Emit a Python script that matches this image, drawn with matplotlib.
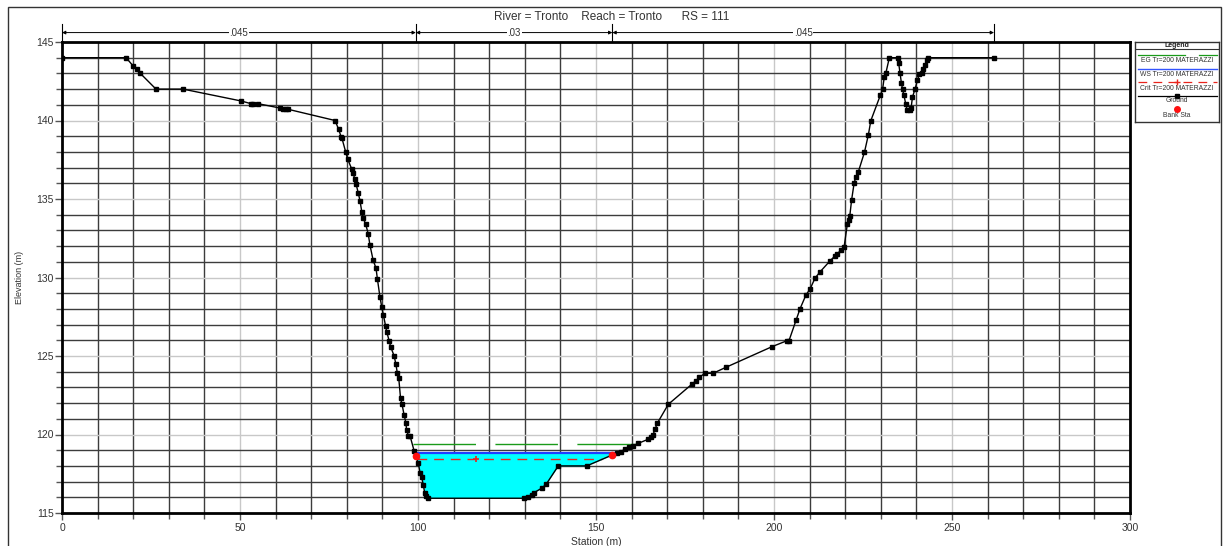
import matplotlib
matplotlib.use("Agg")
import matplotlib.pyplot as plt
from matplotlib.patches import Rectangle
import numpy as np

plt.rcParams['font.family'] = ['Liberation Sans', 'DejaVu Sans']

# ---------------- data ----------------
station = [0, 18.0, 20.0, 21.0, 22.0, 26.4, 34.0, 50.4, 53.1, 53.6, 55.1, 61.2, 62.0, 62.8, 63.4,
           76.7, 77.7, 78.4, 78.6, 79.7, 80.2, 81.4, 81.8, 82.2, 82.6, 83.2, 83.7, 84.2, 84.6,
           85.3, 86.0, 86.5, 87.4, 88.2, 88.6, 89.3, 89.8, 90.3, 90.9, 91.2, 91.9, 92.3, 93.3,
           93.8, 94.2, 94.6, 95.1, 95.5, 96.1, 96.6, 96.8, 97.3, 97.75, 98.9, 99.4, 100.1, 100.6,
           101.0, 101.5, 101.9, 102.2, 102.7, 129.9, 131.0, 131.9, 132.6, 134.7, 136.0, 139.4,
           147.4, 154.6, 155.8, 156.9, 158.1, 159.3, 160.5, 161.9, 164.7, 165.4, 166.0, 166.6,
           167.2, 170.3, 176.9, 178.1, 179.0, 180.6, 182.9, 186.5, 199.5, 203.6, 204.2, 206.2,
           207.3, 209.0, 210.1, 211.5, 212.9, 215.7, 217.1, 217.8, 218.7, 219.7, 220.6, 221.1,
           221.3, 221.8, 222.5, 223.0, 223.7, 225.4, 226.5, 227.2, 229.9, 230.5, 231.0, 231.4,
           232.4, 234.7, 235.0, 235.4, 235.8, 236.1, 236.5, 237.0, 237.4, 238.2, 238.5, 238.9,
           239.6, 240.3, 240.8, 241.5, 241.9, 242.4, 242.9, 243.2, 261.8]
elevation = [144.0, 144.0, 143.47, 143.3, 143.0, 142.0, 142.0, 141.24, 141.07, 141.07, 141.07, 140.8,
             140.76, 140.72, 140.72, 140.0, 139.44, 138.97, 138.9, 137.97, 137.57, 136.9, 136.64,
             136.3, 135.96, 135.4, 134.9, 134.2, 133.77, 133.4, 132.8, 132.07, 131.1, 130.6, 129.9,
             128.78, 128.14, 127.6, 126.9, 126.55, 125.97, 125.6, 125.0, 124.47, 123.9, 123.58,
             122.3, 121.94, 121.24, 120.75, 120.29, 119.92, 119.92, 118.97, 118.6, 118.17, 117.53,
             117.31, 116.78, 116.25, 116.08, 115.94, 115.94, 116.04, 116.17, 116.3, 116.57, 116.83,
             118.0, 118.0, 118.7, 118.8, 118.9, 119.06, 119.2, 119.29, 119.44, 119.7, 119.86,
             119.97, 120.35, 120.71, 121.92, 123.2, 123.43, 123.64, 123.9, 123.9, 124.28, 125.6,
             125.97, 125.97, 127.29, 128.0, 128.9, 129.25, 129.95, 130.35, 131.05, 131.37, 131.5,
             131.73, 131.96, 133.4, 133.66, 133.94, 134.94, 136.0, 136.42, 136.74, 137.97, 139.08,
             139.99, 141.62, 141.99, 142.8, 143.0, 144.0, 144.0, 143.68, 143.0, 142.37, 141.99,
             141.62, 141.05, 140.67, 140.67, 140.78, 141.5, 141.99, 142.58, 142.94, 143.0, 143.26,
             143.53, 143.85, 144.0, 144.0]

bank_sta = [99.4, 154.6]
bank_elev = [118.6, 118.7]

eg_elev = 119.38
eg_extent = [98.6, 161.2]
ws_elev = 118.8
ws_extent = [99.2, 155.8]
crit_elev = 118.42
crit_extent = [99.6, 151.7]
crit_marker_sta = [116.3]

mann_bounds = [0, 99.4, 154.6, 261.8]
mann_labels = [".045", ".03", ".045"]

title = "River = Tronto    Reach = Tronto      RS = 111"
legend_labels = ["EG Tr=200 MATERAZZI", "WS Tr=200 MATERAZZI", "Crit Tr=200 MATERAZZI", "Ground", "Bank Sta"]

# ---------------- figure ----------------
W, H = 1224, 546
fig = plt.figure(figsize=(W / 100, H / 100), dpi=100)
fig.patch.set_facecolor('white')

# outer frame
fig.patches.append(Rectangle((8 / W, -0.05), (1221 - 8) / W, 1 - 7 / H + 0.05,
                             transform=fig.transFigure, fill=False, edgecolor='#333333', lw=1.0))

ax = fig.add_axes([62 / W, 1 - 513 / H, (1130 - 62) / W, (513 - 42) / H])
ax.set_xlim(0, 300)
ax.set_ylim(115, 145)

# grid
for x in range(10, 300, 10):
    ax.axvline(x, color='#c8c8c8' if x % 50 == 0 else '#3c3c3c', lw=1.0, zorder=1)
for y in range(116, 145):
    ax.axhline(y, color='#c8c8c8' if y % 5 == 0 else '#3c3c3c', lw=1.0, zorder=1)

st = np.array(station)
el = np.array(elevation)

# water fill
ax.fill_between(st, el, ws_elev, where=el < ws_elev, interpolate=True,
                color='#00ffff', zorder=2, lw=0)
# WS line
ax.plot(ws_extent, [ws_elev, ws_elev], color='#1f3fff', lw=1.6, zorder=3)
# EG line
ax.plot(eg_extent, [eg_elev, eg_elev], color='#1a9a1a', lw=1.0, zorder=3,
        dashes=(45, 14))
# Crit line
ax.plot(crit_extent, [crit_elev, crit_elev], color='#e8241c', lw=1.0, zorder=3,
        dashes=(7, 5))
ax.plot(crit_marker_sta, [crit_elev] * len(crit_marker_sta), '+', color='#e8241c',
        ms=4, mew=1.2, zorder=3)
# ground
ax.plot(st, el, color='black', lw=1.0, marker='s', ms=3.4, zorder=4)
# bank stations
ax.plot(bank_sta, bank_elev, 'o', color='#ff1010', ms=4.5, zorder=5)

# ticks & spines
ax.set_xticks(range(0, 301, 50))
ax.set_xticks(range(0, 301, 10), minor=True)
ax.set_yticks(range(115, 146, 5))
ax.set_yticks(range(115, 146, 1), minor=True)
ax.tick_params(which='both', direction='out', color='#555555', labelsize=7.5,
               labelcolor='#333333')
ax.tick_params(which='major', length=5, width=1)
ax.tick_params(which='minor', length=4, width=1)
ax.tick_params(axis='x', pad=2)
ax.tick_params(axis='y', pad=1)
for s in ax.spines.values():
    s.set_linewidth(2.0)
    s.set_color('black')
ax.set_xlabel("Station (m)", fontsize=7.5, color='#333333', labelpad=3)
ax.set_ylabel("Elevation (m)", fontsize=6.5, color='#333333', labelpad=9)

# manning's n annotation above axes
y_arrow = 145.6
for b in mann_bounds:
    ax.plot([b, b], [145.0, 146.15], color='black', lw=0.8, clip_on=False)
for i, lab in enumerate(mann_labels):
    a, b = mann_bounds[i], mann_bounds[i + 1]
    ax.annotate('', xy=(a, y_arrow), xytext=(b, y_arrow), annotation_clip=False,
                arrowprops=dict(arrowstyle='<|-|>', color='black', lw=0.7,
                                mutation_scale=5, shrinkA=0, shrinkB=0))
    ax.text((a + b) / 2, y_arrow, lab, fontsize=7, color='#333333', ha='center', va='center',
            bbox=dict(facecolor='white', edgecolor='none', pad=0.6), clip_on=False)

fig.text(612 / W, 1 - 17 / H, title, fontsize=8.5, color='#333333', ha='center', va='center')

# legend box (drawn in pixel coordinates of a small axes)
lx0, ly0, lx1, ly1 = 1135, 42, 1219, 122
lg = fig.add_axes([lx0 / W, 1 - ly1 / H, (lx1 - lx0) / W, (ly1 - ly0) / H])
lg.set_xlim(0, lx1 - lx0)
lg.set_ylim(ly1 - ly0, 0)
lg.set_xticks([])
lg.set_yticks([])
for s in lg.spines.values():
    s.set_linewidth(1.0)
    s.set_color('#333333')
cx = (lx1 - lx0) / 2
lg.text(cx, 3.5, "Legend", fontsize=5, fontweight='bold', ha='center', va='center', color='#222222')
lg.plot([0, 84], [7, 7], color='#333333', lw=0.8)
fs = 4.9
lg.plot([3, 50], [13, 13], color='#1a9a1a', lw=0.9)
lg.plot([64, 82], [13, 13], color='#1a9a1a', lw=0.9)
lg.text(cx, 18.7, legend_labels[0], fontsize=fs, ha='center', va='center', color='#333333')
lg.plot([3, 82], [27.3, 27.3], color='#3355ff', lw=1.0)
lg.text(cx, 32, legend_labels[1], fontsize=fs, ha='center', va='center', color='#333333')
lg.plot([3, 82], [40.3, 40.3], color='#e8241c', lw=0.9, dashes=(7, 5))
lg.plot([cx], [40.3], '+', color='#e8241c', ms=4, mew=1.0)
lg.text(cx, 46.3, legend_labels[2], fontsize=fs, ha='center', va='center', color='#333333')
lg.plot([3, 82], [54, 54], color='black', lw=0.9)
lg.plot([cx], [54], 's', color='black', ms=3)
lg.text(cx, 59, legend_labels[3], fontsize=fs, ha='center', va='center', color='#333333')
lg.plot([cx], [67], 'o', color='#ff1010', ms=4)
lg.text(cx, 73.7, legend_labels[4], fontsize=fs, ha='center', va='center', color='#333333')

fig.savefig("out.png", dpi=100, facecolor='white')
